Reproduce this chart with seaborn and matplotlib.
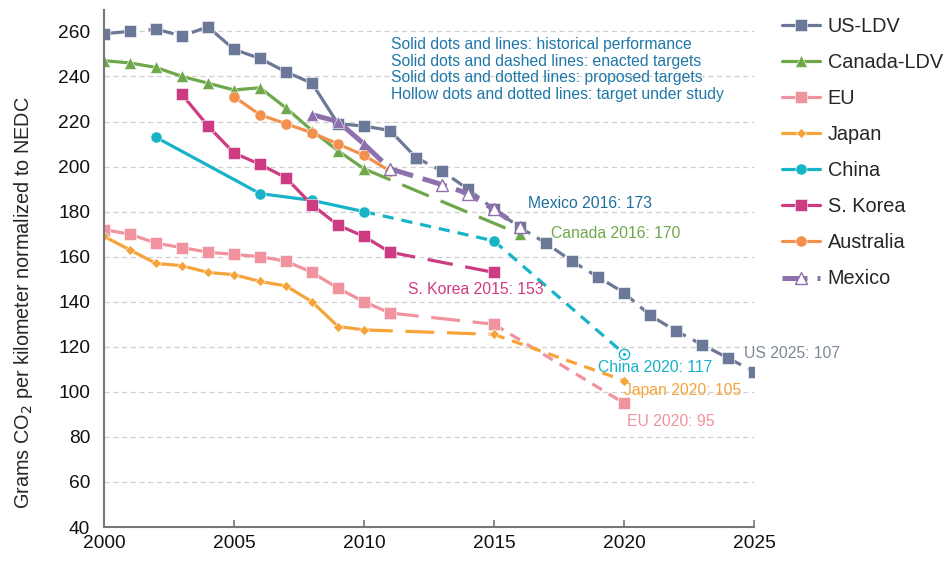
import matplotlib
matplotlib.use("Agg")
import matplotlib.pyplot as plt
from matplotlib.lines import Line2D
import seaborn as sns

# --- data ---
us_years = list(range(2000, 2026))
us_vals = [259, 260, 261, 258, 262, 252, 248, 242, 237, 219, 218, 216, 204,
           198, 190, 181, 173, 166, 158, 151, 144, 134, 127, 121, 115, 109]

canada_years = list(range(2000, 2011))
canada_vals = [247, 246, 244, 240, 237, 234, 235, 226, 216, 207, 199]
canada_target_year = 2016
canada_target = 170

eu_years = list(range(2000, 2012))
eu_vals = [172, 170, 166, 164, 162, 161, 160, 158, 153, 146, 140, 135]
eu_target_years = [2015, 2020]
eu_targets = [130, 95]

japan_years = list(range(2000, 2011))
japan_vals = [169, 163, 157, 156, 153, 152, 149, 147, 140, 129, 127.5]
japan_target_years = [2015, 2020]
japan_targets = [125.5, 105]

china_years = [2002, 2006, 2008, 2010]
china_vals = [213, 188, 185, 180]
china_target_years = [2015, 2020]
china_targets = [167, 117]

korea_years = list(range(2003, 2012))
korea_vals = [232, 218, 206, 201, 195, 183, 174, 169, 162]
korea_target_year = 2015
korea_target = 153

australia_years = list(range(2005, 2012))
australia_vals = [231, 223, 219, 215, 210, 205, 198]

mexico_years = [2008, 2009, 2010]
mexico_vals = [223, 220, 210]
mexico_study_years = [2011, 2013, 2014, 2015, 2016]
mexico_study_vals = [199, 192, 188, 181, 173]

notes = ["Solid dots and lines: historical performance",
         "Solid dots and dashed lines: enacted targets",
         "Solid dots and dotted lines: proposed targets",
         "Hollow dots and dotted lines: target under study"]

C_US = "#6c7897"
C_CA = "#6fa84b"
C_EU = "#f0939e"
C_JP = "#f6a43a"
C_CN = "#17b3c7"
C_KR = "#cd3b83"
C_AU = "#f2904d"
C_MX = "#8e70ac"
C_NOTE = "#1f78a8"

sns.set_style("white")
plt.rcParams["font.family"] = ["Liberation Sans", "DejaVu Sans"]

fig = plt.figure(figsize=(9.51, 5.63), dpi=100)
ax = fig.add_axes([104 / 951, 36 / 563, 650 / 951, 517 / 563])

LW = 2.3
MS = 8
short_dash = (0, (3.5, 2.5))


def seg(x, y, color, ls="-", marker="s", ms=MS, label=None, lw=LW, **kw):
    return sns.lineplot(x=x, y=y, ax=ax, color=color, linestyle=ls, lw=lw,
                        marker=marker, markersize=ms, markeredgecolor=kw.pop("mec", "white"),
                        markeredgewidth=kw.pop("mew", 0.4), label=label,
                        estimator=None, sort=False, **kw)


# US-LDV
seg(us_years[:5], us_vals[:5], C_US, ls=(0, (8, 6)))
seg(us_years[4:13], us_vals[4:13], C_US, label="US-LDV")
seg(us_years[12:], us_vals[12:], C_US, ls=(0, (4, 2.5)))

# Canada
seg(canada_years, canada_vals, C_CA, marker="^", ms=9, label="Canada-LDV")
seg([canada_years[-1], canada_target_year], [canada_vals[-1], canada_target],
    C_CA, ls=(0, (9, 4)), marker="^", ms=9)

# EU
seg(eu_years, eu_vals, C_EU, label="EU")
seg([eu_years[-1], eu_target_years[0]], [eu_vals[-1], eu_targets[0]], C_EU, ls=(0, (9, 4)))
seg(eu_target_years, eu_targets, C_EU, ls=short_dash)

# Japan
seg(japan_years, japan_vals, C_JP, marker="D", ms=5.5, label="Japan")
seg([japan_years[-1], japan_target_years[0]], [japan_vals[-1], japan_targets[0]],
    C_JP, ls=(0, (9, 4)), marker="D", ms=5.5)
seg(japan_target_years, japan_targets, C_JP, ls=short_dash, marker="D", ms=5.5)

# China
seg(china_years, china_vals, C_CN, marker="o", label="China")
seg([china_years[-1], china_target_years[0]], [china_vals[-1], china_targets[0]],
    C_CN, ls=short_dash, marker="o")
seg(china_target_years, china_targets, C_CN, ls=short_dash, marker=None)
seg(china_target_years[:1], china_targets[:1], C_CN, marker="o")
sns.scatterplot(x=china_target_years[1:], y=china_targets[1:], ax=ax, s=55,
                facecolor="white", edgecolor=C_CN, linewidth=1.0, zorder=5)
sns.scatterplot(x=china_target_years[1:], y=china_targets[1:], ax=ax, s=5,
                color=C_CN, linewidth=0, zorder=6)

# S. Korea
seg(korea_years, korea_vals, C_KR, label="S. Korea")
seg([korea_years[-1], korea_target_year], [korea_vals[-1], korea_target], C_KR, ls=(0, (8, 4)))

# Australia
seg(australia_years, australia_vals, C_AU, marker="o", label="Australia")

# Mexico
mx_dash = (0, (5, 2))
seg(mexico_years, mexico_vals, C_MX, ls=mx_dash, lw=3.6, marker="^", ms=9)
seg([mexico_years[-1]] + mexico_study_years, [mexico_vals[-1]] + mexico_study_vals,
    C_MX, ls=mx_dash, lw=3.6, marker=None)
seg(mexico_study_years, mexico_study_vals, C_MX, ls="none", marker="^", ms=9,
    mec=C_MX, mew=1.0, markerfacecolor="white")

# annotations
ax.text(2016.3, 183.5, "Mexico 2016: 173", color="#1d6f9f", fontsize=11.3, va="center")
ax.text(2017.2, 170.2, "Canada 2016: 170", color=C_CA, fontsize=11.3, va="center")
ax.text(2011.7, 145.3, "S. Korea 2015: 153", color=C_KR, fontsize=11.3, va="center")
ax.text(2019.0, 110.7, "China 2020: 117", color=C_CN, fontsize=11.3, va="center")
ax.text(2020.0, 100.4, "Japan 2020: 105", color=C_JP, fontsize=11.3, va="center")
ax.text(2020.1, 87.0, "EU 2020: 95", color=C_EU, fontsize=11.3, va="center")
ax.text(2024.6, 117.0, "US 2025: 107", color="#7f889c", fontsize=11.3, va="center")

for i, line in enumerate(notes):
    ax.text(2011.05, 254.2 - i * 7.35, line, color=C_NOTE, fontsize=11.3, va="center")

ax.set_xlim(2000, 2025)
ax.set_ylim(40, 269.5)
ax.set_xticks(range(2000, 2026, 5))
ax.set_yticks(range(40, 261, 20))
ax.tick_params(axis="both", labelsize=13.8, colors="#777777", labelcolor="#111111")
ax.tick_params(axis="x", direction="in", length=5, width=1.2, bottom=True, pad=6)
ax.tick_params(axis="y", length=0, pad=10)
ax.yaxis.grid(True, linestyle=(0, (4, 3)), color="#cfcfcf", lw=0.9)
ax.set_axisbelow(True)
for s in ["top", "right"]:
    ax.spines[s].set_visible(False)
for s in ["left", "bottom"]:
    ax.spines[s].set_color("#777777")
    ax.spines[s].set_linewidth(1.5)
ax.set_xlabel("")
ax.set_ylabel("Grams CO$_2$ per kilometer normalized to NEDC", fontsize=14.3)
ax.yaxis.set_label_coords(-0.106, 0.435)

handles, labels = ax.get_legend_handles_labels()
hmap = dict(zip(labels, handles))
hmap["Mexico"] = Line2D([], [], color=C_MX, lw=3.6, linestyle=mx_dash, marker="^",
                        markersize=8, markerfacecolor="white", markeredgecolor=C_MX)
order = ["US-LDV", "Canada-LDV", "EU", "Japan", "China", "S. Korea", "Australia", "Mexico"]
if ax.legend_:
    ax.legend_.remove()
fig.legend([hmap[k] for k in order], order, loc="upper left",
           bbox_to_anchor=(772 / 951, 1 - 7 / 563), frameon=False, fontsize=14.3,
           handlelength=1.9, handletextpad=0.4, labelspacing=0.86, borderpad=0)

fig.savefig("out.png", dpi=100)
